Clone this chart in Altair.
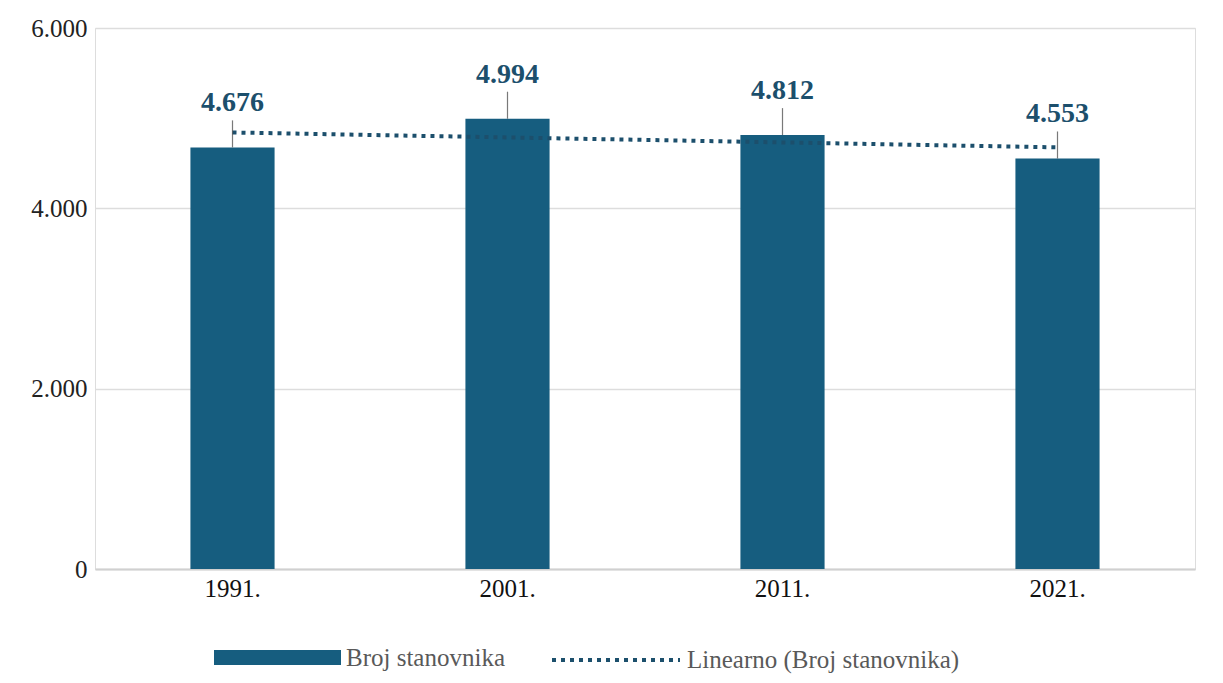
import altair as alt
import pandas as pd

years = ["1991.", "2001.", "2011.", "2021."]
population = [4676, 4994, 4812, 4553]
value_labels = ["4.676", "4.994", "4.812", "4.553"]
y_ticks = [0, 2000, 4000, 6000]

bar_color = "#165d7f"
line_color = "#1c4f6c"
serif = "Liberation Serif"

df = pd.DataFrame({
    "year": years,
    "pop": population,
    "label": value_labels,
    "idx": list(range(len(years))),
})

year_arr = "[" + ",".join("'" + y + "'" for y in years) + "]"

x_enc = alt.X(
    "year:N", sort=years, title=None,
    scale=alt.Scale(paddingInner=0.694, paddingOuter=0.347),
    axis=alt.Axis(labelAngle=0, ticks=False, domainColor="#d0d0d0", domainWidth=2,
                  labelFont=serif, labelFontSize=25, labelColor="#111111", labelPadding=7),
)
y_enc = alt.Y(
    "pop:Q", title=None,
    scale=alt.Scale(domain=[0, 6000]),
    axis=alt.Axis(values=y_ticks, ticks=False, domain=False, gridColor="#dddddd", gridWidth=1.5,
                  labelFont=serif, labelFontSize=25, labelColor="#222222", labelPadding=8,
                  labelExpr="replace(format(datum.value, ','), ',', '.')"),
)

base = alt.Chart(df)

legend_common = dict(title=None, orient="none", labelFont=serif, labelFontSize=25,
                     labelColor="#595959", labelLimit=500, labelOffset=5)

bars = base.transform_calculate(series="'Broj stanovnika'").mark_bar().encode(
    x=x_enc, y=y_enc,
    color=alt.Color("series:N",
                    scale=alt.Scale(domain=["Broj stanovnika"], range=[bar_color]),
                    legend=alt.Legend(symbolType="M-1,-0.12L1,-0.12L1,0.12L-1,0.12Z",
                                      symbolSize=16129, symbolStrokeWidth=0,
                                      legendX=119, legendY=566, **legend_common)),
)

trend = base.transform_regression("idx", "pop", method="linear").transform_calculate(
    year=year_arr + "[datum.idx]", t="'Linearno (Broj stanovnika)'"
).mark_line(strokeWidth=4, color=line_color).encode(
    x=alt.X("year:N", sort=years),
    y=alt.Y("pop:Q"),
    strokeDash=alt.StrokeDash("t:N",
                              scale=alt.Scale(domain=["Linearno (Broj stanovnika)"], range=[[4, 5]]),
                              legend=alt.Legend(symbolType="stroke",
                                                symbolSize=16384, symbolStrokeWidth=4,
                                                symbolStrokeColor=line_color,
                                                legendX=455, legendY=566, **legend_common)),
)

leaders = base.mark_tick(orient="vertical", size=27, yOffset=-13.5, color="#404040", thickness=1.2).encode(
    x=alt.X("year:N", sort=years), y=alt.Y("pop:Q")
)

texts = base.mark_text(baseline="alphabetic", dy=-36, font=serif, fontSize=28, fontWeight="bold",
                       color=line_color).encode(
    x=alt.X("year:N", sort=years), y=alt.Y("pop:Q"), text="label:N"
)

chart = alt.layer(bars, trend, leaders, texts).resolve_legend(color="independent", strokeDash="independent").properties(
    width=1100, height=541,
    padding={"left": 22, "top": 8, "right": 10, "bottom": 2},
).configure_view(stroke=None).configure_legend(
    labelFont=serif, labelFontSize=25, labelColor="#595959"
).configure(background="white", font=serif)

chart.save("out.html", embed_options={"renderer": "svg", "actions": False})
